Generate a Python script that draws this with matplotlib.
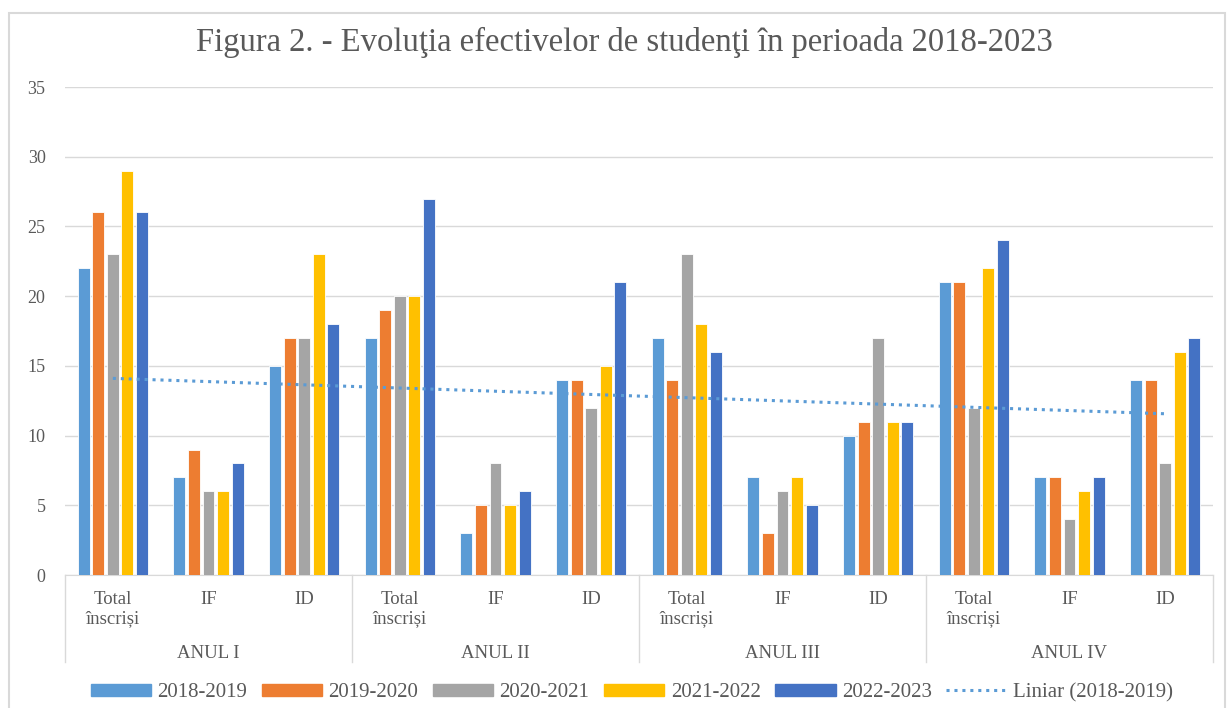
import numpy as np
import matplotlib
matplotlib.use('Agg')
import matplotlib.pyplot as plt
from matplotlib.lines import Line2D
from matplotlib.patches import Patch

plt.rcParams['font.family'] = ['Liberation Serif', 'DejaVu Serif']

# data
years = ['ANUL I', 'ANUL II', 'ANUL III', 'ANUL IV']
subcats = ['Total\nînscriși', 'IF', 'ID']
series_names = ['2018-2019', '2019-2020', '2020-2021', '2021-2022', '2022-2023']
s2018 = [22, 7, 15, 17, 3, 14, 17, 7, 10, 21, 7, 14]
s2019 = [26, 9, 17, 19, 5, 14, 14, 3, 11, 21, 7, 14]
s2020 = [23, 6, 17, 20, 8, 12, 23, 6, 17, 12, 4, 8]
s2021 = [29, 6, 23, 20, 5, 15, 18, 7, 11, 22, 6, 16]
s2022 = [26, 8, 18, 27, 6, 21, 16, 5, 11, 24, 7, 17]
colors = ['#5B9BD5', '#ED7D31', '#A5A5A5', '#FFC000', '#4472C4']

all_series = [s2018, s2019, s2020, s2021, s2022]
n = len(s2018)
x = np.arange(n)

fig = plt.figure(figsize=(12.27, 7.08), dpi=100)
ax = fig.add_axes([65/1227, 133/708, 1148/1227, 488/708])

pitch = 0.152
for i, (vals, c) in enumerate(zip(all_series, colors)):
    ax.bar(x + (i - 2) * pitch, vals, width=0.125, color=c,
           edgecolor='white', linewidth=0.6, zorder=3)

# linear trend for 2018-2019 (least squares, like Excel)
k, b = np.polyfit(x, s2018, 1)
ax.plot(x, k * x + b, color='#5B9BD5', linestyle=(0, (1, 1.6)),
        linewidth=2.2, zorder=4)

ax.set_xlim(-0.5, n - 0.5)
ax.set_ylim(0, 35)
ax.set_yticks(range(0, 36, 5))
ax.tick_params(axis='y', length=0, pad=14, labelsize=13, labelcolor='#595959')
ax.grid(axis='y', color='#D9D9D9', linewidth=1, zorder=0)
for s in ['top', 'right', 'left']:
    ax.spines[s].set_visible(False)
ax.spines['bottom'].set_color('#D9D9D9')
ax.set_xticks([])

# multi-level category axis
trans = ax.get_xaxis_transform()
for j in range(n):
    ax.text(x[j], -0.032, subcats[j % 3], transform=trans, ha='center', va='top',
            fontsize=13.5, color='#595959', linespacing=1.2)
for g, name in enumerate(years):
    ax.text(3 * g + 1, -0.143, name, transform=trans, ha='center', va='top',
            fontsize=13.5, color='#595959')
for g in range(len(years) + 1):
    ax.add_line(Line2D([3 * g - 0.5, 3 * g - 0.5], [0, -0.178], transform=trans,
                       color='#D9D9D9', linewidth=1, clip_on=False))

fig.suptitle('Figura 2. - Evoluţia efectivelor de studenţi în perioada 2018-2023',
             x=0.509, y=0.962, fontsize=23.5, color='#595959')

handles = [Patch(color=c) for c in colors]
handles.append(Line2D([], [], color='#5B9BD5', linestyle=(0, (1, 1.6)), linewidth=2.2))
labels = series_names + ['Liniar (2018-2019)']
fig.legend(handles, labels, loc='center', bbox_to_anchor=(0.515, 0.022), ncol=6,
           frameon=False, fontsize=15, handlelength=2.9, handleheight=0.5,
           columnspacing=0.7, handletextpad=0.3, labelcolor='#595959')

# chart border
fig.add_artist(plt.Rectangle((9/1227, -0.01), 1216/1227, (708 - 13)/708 + 0.01,
                             transform=fig.transFigure, fill=False,
                             edgecolor='#D9D9D9', linewidth=1.5))

fig.savefig('out.png', dpi=100)
